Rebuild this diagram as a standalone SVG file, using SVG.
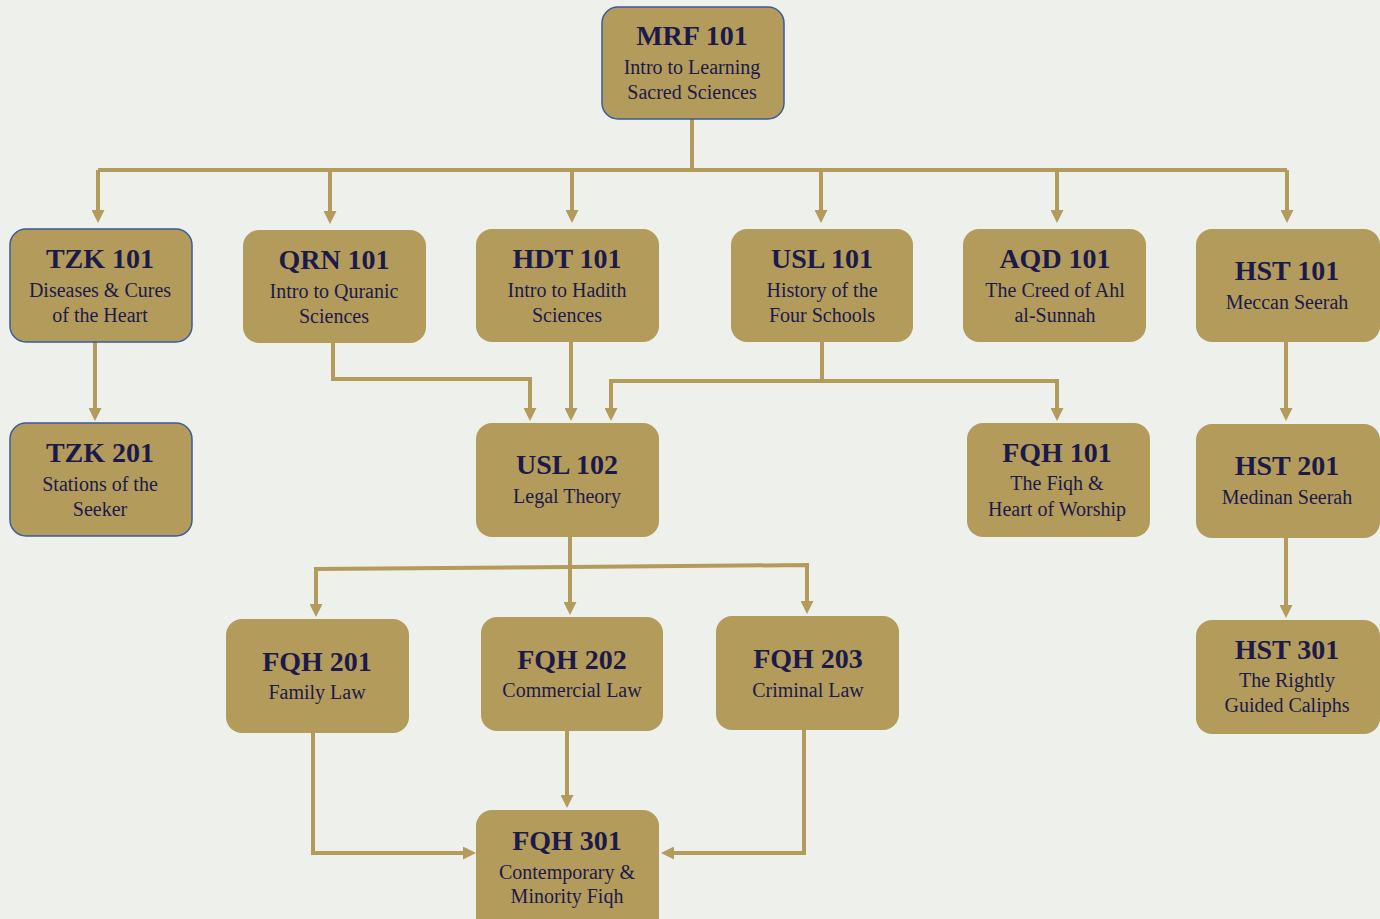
<svg xmlns="http://www.w3.org/2000/svg" width="1380" height="919" viewBox="0 0 1380 919">
<style>
.bg{fill:#eef0eb}
.box{fill:#b39b5c}
.bb{stroke:#3d5a99;stroke-width:1.5}
.t{font-family:"Liberation Serif",serif;font-weight:bold;font-size:28px;fill:#1b1a4a;text-anchor:middle}
.s{font-family:"Liberation Serif",serif;font-size:20px;fill:#1b1a4a;text-anchor:middle}
.c path{fill:none;stroke:#b39b5c;stroke-width:4;marker-end:url(#ah)}
.c path.n{marker-end:none}
</style>
<defs>
<marker id="ah" viewBox="0 0 13 13" refX="8" refY="6.5" markerWidth="13" markerHeight="13" markerUnits="userSpaceOnUse" orient="auto">
<path d="M0,0 L13,6.5 L0,13 z" fill="#b39b5c"/>
</marker>
</defs>
<rect class="bg" x="0" y="0" width="1380" height="919"/>
<g id="connectors" class="c">
<path class="n" d="M692,119 V170 M98,170 H1287"/>
<path d="M98,170 V218"/>
<path d="M330,170 V219"/>
<path d="M572,170 V218"/>
<path d="M821,170 V218"/>
<path d="M1057,170 V218"/>
<path d="M1287,170 V218"/>
<path d="M95,342 V416"/>
<path d="M333,343 V379 H530 V416"/>
<path d="M571,342 V416"/>
<path d="M822,342 V381 H611 V416"/>
<path d="M822,381 H1057 V416"/>
<path d="M1286,342 V416"/>
<path d="M1286,538 V613"/>
<path class="n" d="M570,537 V567"/>
<path d="M570,567 L316,569 V612"/>
<path d="M570,567 V610"/>
<path d="M570,567 L807,565 V609"/>
<path d="M313,733 V853 H471"/>
<path d="M567,731 V803"/>
<path d="M804,730 V853 H666"/>
</g>
<g id="mrf101"><rect class="box bb" x="602" y="7" width="182" height="112" rx="16"/><text class="t" x="692" y="45">MRF 101</text><text class="s" x="692" y="74">Intro to Learning</text><text class="s" x="692" y="99">Sacred Sciences</text></g>
<g id="tzk101"><rect class="box bb" x="10" y="229" width="182" height="113" rx="16"/><text class="t" x="100" y="268">TZK 101</text><text class="s" x="100" y="297">Diseases &amp; Cures</text><text class="s" x="100" y="322">of the Heart</text></g>
<g id="qrn101"><rect class="box" x="243" y="230" width="183" height="113" rx="16"/><text class="t" x="334" y="269">QRN 101</text><text class="s" x="334" y="298">Intro to Quranic</text><text class="s" x="334" y="323">Sciences</text></g>
<g id="hdt101"><rect class="box" x="476" y="229" width="183" height="113" rx="16"/><text class="t" x="567" y="268">HDT 101</text><text class="s" x="567" y="297">Intro to Hadith</text><text class="s" x="567" y="322">Sciences</text></g>
<g id="usl101"><rect class="box" x="731" y="229" width="182" height="113" rx="16"/><text class="t" x="822" y="268">USL 101</text><text class="s" x="822" y="297">History of the</text><text class="s" x="822" y="322">Four Schools</text></g>
<g id="aqd101"><rect class="box" x="963" y="229" width="183" height="113" rx="16"/><text class="t" x="1055" y="268">AQD 101</text><text class="s" x="1055" y="297">The Creed of Ahl</text><text class="s" x="1055" y="322">al-Sunnah</text></g>
<g id="hst101"><rect class="box" x="1196" y="229" width="184" height="113" rx="16"/><text class="t" x="1287" y="280">HST 101</text><text class="s" x="1287" y="309">Meccan Seerah</text></g>
<g id="tzk201"><rect class="box bb" x="10" y="423" width="182" height="113" rx="16"/><text class="t" x="100" y="462">TZK 201</text><text class="s" x="100" y="491">Stations of the</text><text class="s" x="100" y="516">Seeker</text></g>
<g id="usl102"><rect class="box" x="476" y="423" width="183" height="114" rx="16"/><text class="t" x="567" y="474">USL 102</text><text class="s" x="567" y="503">Legal Theory</text></g>
<g id="fqh101"><rect class="box" x="967" y="423" width="183" height="114" rx="16"/><text class="t" x="1057" y="462">FQH 101</text><text class="s" x="1057" y="490">The Fiqh &amp;</text><text class="s" x="1057" y="516">Heart of Worship</text></g>
<g id="hst201"><rect class="box" x="1196" y="424" width="184" height="114" rx="16"/><text class="t" x="1287" y="475">HST 201</text><text class="s" x="1287" y="504">Medinan Seerah</text></g>
<g id="hst301"><rect class="box" x="1196" y="620" width="184" height="114" rx="16"/><text class="t" x="1287" y="659">HST 301</text><text class="s" x="1287" y="687">The Rightly</text><text class="s" x="1287" y="712">Guided Caliphs</text></g>
<g id="fqh201"><rect class="box" x="226" y="619" width="183" height="114" rx="16"/><text class="t" x="317" y="671">FQH 201</text><text class="s" x="317" y="699">Family Law</text></g>
<g id="fqh202"><rect class="box" x="481" y="617" width="182" height="114" rx="16"/><text class="t" x="572" y="669">FQH 202</text><text class="s" x="572" y="697">Commercial Law</text></g>
<g id="fqh203"><rect class="box" x="716" y="616" width="183" height="114" rx="16"/><text class="t" x="808" y="668">FQH 203</text><text class="s" x="808" y="697">Criminal Law</text></g>
<g id="fqh301"><rect class="box" x="476" y="810" width="183" height="124" rx="16"/><text class="t" x="567" y="850">FQH 301</text><text class="s" x="567" y="879">Contemporary &amp;</text><text class="s" x="567" y="903">Minority Fiqh</text></g>
</svg>
